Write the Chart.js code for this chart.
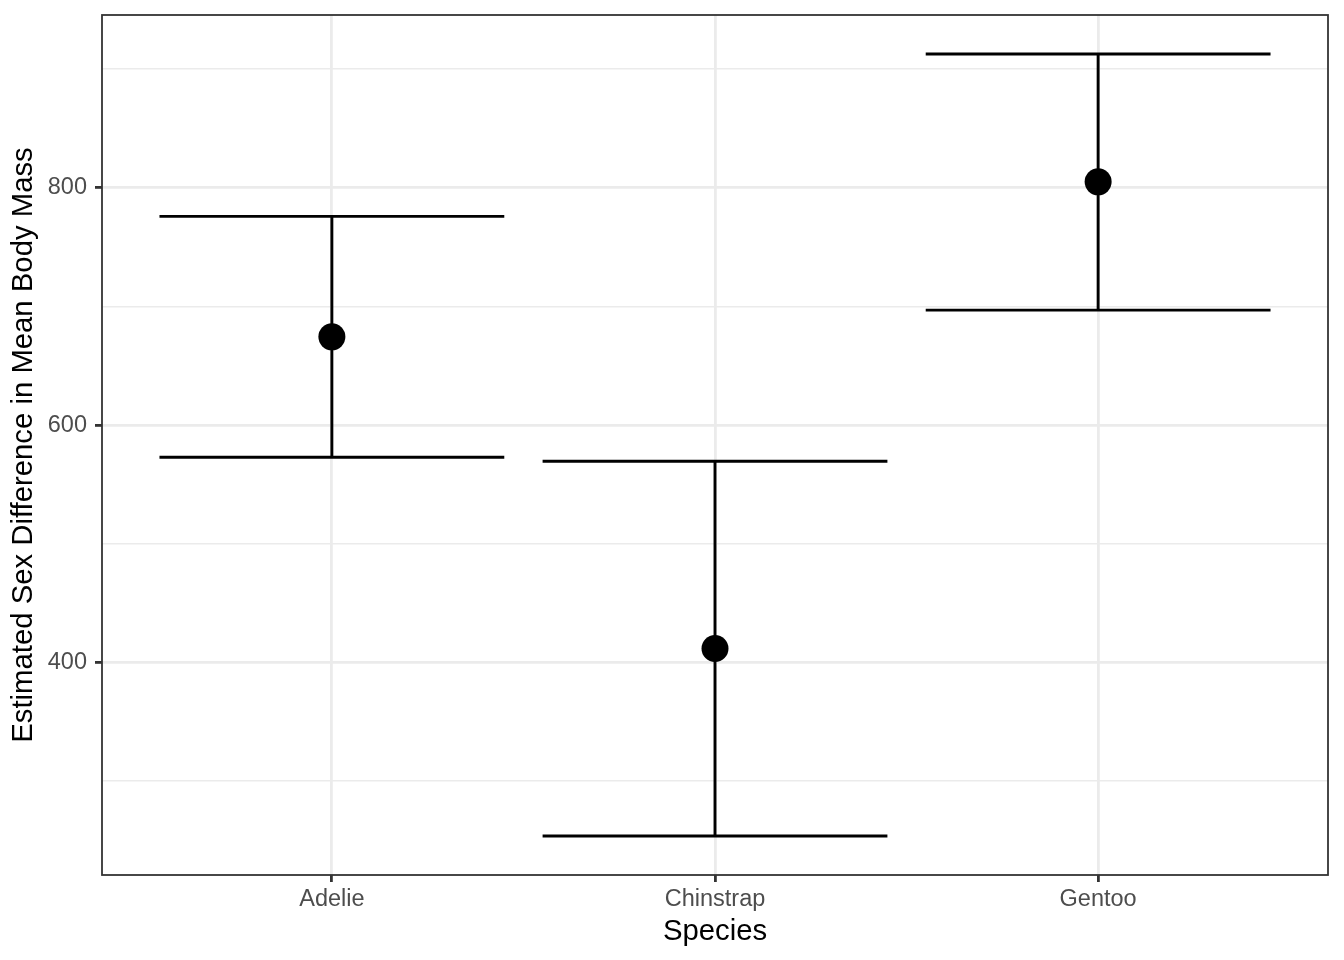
<!DOCTYPE html>
<html>
<head>
<meta charset="utf-8">
<script src="https://cdn.jsdelivr.net/npm/chart.js@4/dist/chart.umd.min.js"></script>
<style>
  html, body { margin: 0; padding: 0; background: #ffffff; }
  canvas { display: block; }
</style>
</head>
<body>
<canvas id="c" width="1344" height="960"></canvas>
<script>
// ---- data ----
const species = ["Adelie", "Chinstrap", "Gentoo"];
const estimate = [674.4, 411.7, 805.0];
const lower = [572.9, 253.8, 696.9];
const upper = [775.9, 569.6, 912.7];
const yMajorTicks = [400, 600, 800];

const capHalf = 0.45;
const FONT = "'Liberation Sans', Arial, Helvetica, sans-serif";

// build error bar segments through the linear scales
const errData = [];
species.forEach((s, i) => {
  const x = i + 1;
  errData.push({x: x - capHalf, y: upper[i]}, {x: x + capHalf, y: upper[i]}, {x: x, y: null});
  errData.push({x: x - capHalf, y: lower[i]}, {x: x + capHalf, y: lower[i]}, {x: x, y: null});
  errData.push({x: x, y: lower[i]}, {x: x, y: upper[i]}, {x: x, y: null});
});
const pointData = species.map((s, i) => ({x: i + 1, y: estimate[i]}));

const borderPlugin = {
  id: 'panelBorder',
  afterDatasetsDraw(chart) {
    const {ctx, chartArea: a} = chart;
    ctx.save();
    ctx.strokeStyle = '#333333';
    ctx.lineWidth = 1.8;
    ctx.strokeRect(a.left, a.top, a.right - a.left, a.bottom - a.top);
    ctx.restore();
  }
};

new Chart(document.getElementById('c'), {
  type: 'scatter',
  data: {
    datasets: [
      {
        type: 'line',
        data: errData,
        borderColor: '#000000',
        borderWidth: 2.9,
        pointRadius: 0,
        spanGaps: false,
        fill: false,
        tension: 0,
        order: 2
      },
      {
        type: 'scatter',
        data: pointData,
        backgroundColor: '#000000',
        borderColor: '#000000',
        pointRadius: 13.5,
        borderWidth: 0,
        order: 1
      }
    ]
  },
  options: {
    responsive: false,
    animation: false,
    layout: { padding: { top: 15, right: 16, left: 0, bottom: 0 } },
    plugins: { legend: { display: false }, tooltip: { enabled: false } },
    scales: {
      x: {
        type: 'linear',
        min: 0.4,
        max: 3.6,
        afterFit: s => { s.height = 85; s.paddingLeft = 0; s.paddingRight = 0; },
        border: { display: false },
        grid: {
          color: '#EBEBEB',
          lineWidth: 2.8,
          tickColor: '#333333',
          tickWidth: 2.8,
          tickLength: 7
        },
        ticks: {
          stepSize: 1,
          includeBounds: false,
          autoSkip: false,
          maxRotation: 0,
          padding: 3,
          color: '#4D4D4D',
          font: { family: FONT, size: 23.5 },
          callback: v => Number.isInteger(v) ? species[v - 1] : ''
        },
        title: {
          display: true,
          text: 'Species',
          color: '#000000',
          font: { family: FONT, size: 29.3 },
          padding: { top: 0, bottom: 11 }
        }
      },
      y: {
        type: 'linear',
        min: 220.9,
        max: 945.6,
        afterFit: s => { s.width = 102; s.paddingTop = 0; s.paddingBottom = 0; },
        border: { display: false },
        grid: {
          color: '#EBEBEB',
          lineWidth: c => (yMajorTicks.includes(c.tick && c.tick.value) ? 2.8 : 1.4),
          tickColor: c => (yMajorTicks.includes(c.tick && c.tick.value) ? '#333333' : 'rgba(0,0,0,0)'),
          tickWidth: 2.8,
          tickLength: 7
        },
        ticks: {
          stepSize: 100,
          includeBounds: false,
          autoSkip: false,
          padding: 8,
          color: '#4D4D4D',
          font: { family: FONT, size: 23.5 },
          callback: v => (yMajorTicks.includes(v) ? String(v) : '')
        },
        title: {
          display: true,
          text: 'Estimated Sex Difference in Mean Body Mass',
          color: '#000000',
          font: { family: FONT, size: 29.3 },
          padding: { top: 6, bottom: 0 }
        }
      }
    }
  },
  plugins: [borderPlugin]
});
</script>
</body>
</html>
